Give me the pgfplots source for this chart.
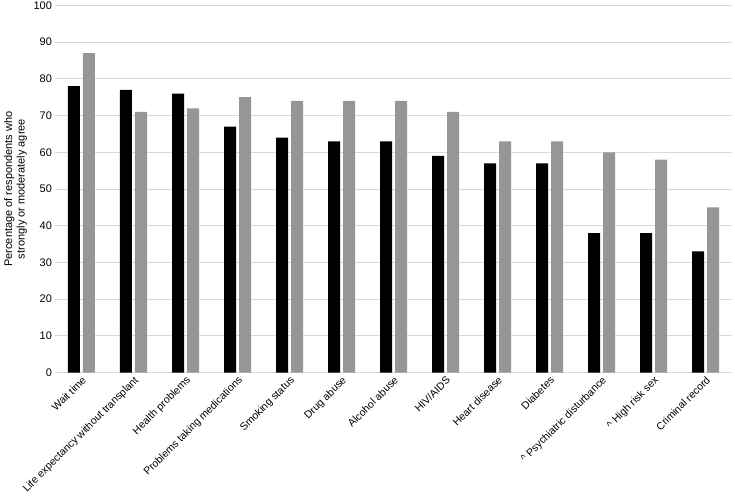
\documentclass[border=0pt]{standalone}
\usepackage{pgfplots}
\pgfplotsset{compat=1.18}
\usepackage{fontspec}
\setmainfont{Liberation Sans}
\definecolor{barblack}{HTML}{000000}
\definecolor{bargray}{HTML}{969696}
\definecolor{gridgray}{HTML}{D9D9D9}
\begin{document}
\begin{tikzpicture}
\begin{axis}[
    name=ax,
    scale only axis,
    width=676bp, height=367bp,
    ybar=3bp, bar width=12bp,
    xmin=-0.5, xmax=12.5,
    ymin=0, ymax=100,
    ytick={0,10,...,100},
    xtick={0,...,12},
    xticklabels={Wait time, Life expectancy without transplant, Health problems,
      Problems taking medications, Smoking status, Drug abuse, Alcohol abuse,
      HIV/AIDS, Heart disease, Diabetes, \^{} Psychiatric disturbance,
      \^{} High risk sex, Criminal record},
    x tick label style={rotate=45, anchor=north east, inner sep=2pt, font=\fontsize{10.5bp}{12bp}\selectfont},
    y tick label style={font=\fontsize{11bp}{13bp}\selectfont},
    /pgf/number format/assume math mode=true,
    ymajorgrids, grid style={gridgray, line width=0.8pt},
    axis x line*=bottom, axis y line*=left,
    x axis line style={gridgray, line width=0.8pt, -},
    y axis line style={draw=none},
    major tick length=0pt,
    ylabel={Percentage of respondents who\\strongly or moderately agree},
    ylabel style={align=center, font=\fontsize{11bp}{12.5bp}\selectfont},
]
\addplot[draw=none, fill=barblack] coordinates {(0,78) (1,77) (2,76) (3,67) (4,64) (5,63) (6,63) (7,59) (8,57) (9,57) (10,38) (11,38) (12,33)};
\addplot[draw=none, fill=bargray] coordinates {(0,87) (1,71) (2,72) (3,75) (4,74) (5,74) (6,74) (7,71) (8,63) (9,63) (10,60) (11,58) (12,45)};
\end{axis}
\pgfresetboundingbox
\useasboundingbox ([shift={(-55.5bp,-126.5bp)}]ax.south west) rectangle ([shift={(3.5bp,5.5bp)}]ax.north east);
\end{tikzpicture}
\end{document}
